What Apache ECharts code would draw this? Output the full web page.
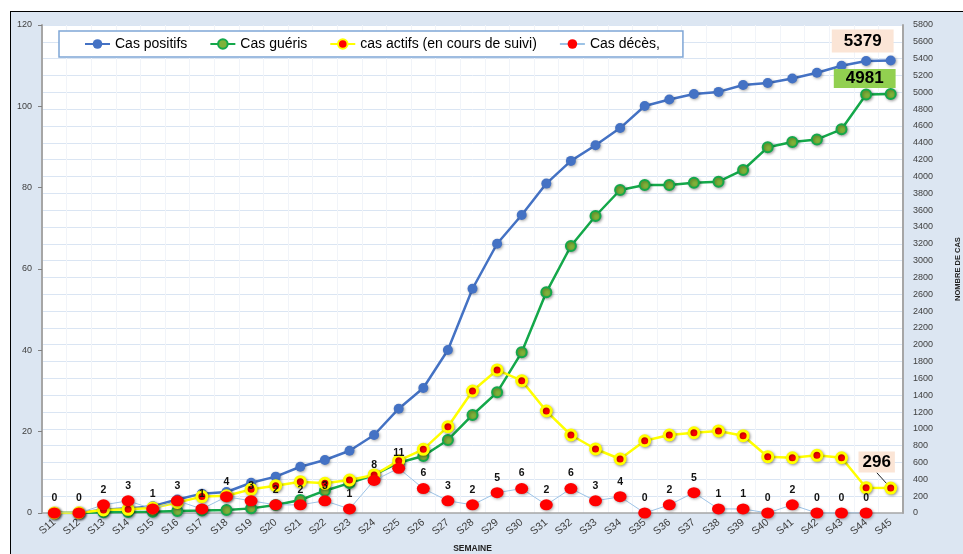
<!DOCTYPE html>
<html><head><meta charset="utf-8">
<script src="https://cdn.jsdelivr.net/npm/echarts@6/dist/echarts.min.js"></script>
<style>
html,body{margin:0;padding:0;background:#fff;overflow:hidden;width:963px;height:554px}
#bg{position:absolute;left:10px;top:11px;width:953px;height:543px;background:#dce6f2;border-left:1.5px solid #000;border-top:1.5px solid #000;box-sizing:border-box}
#c{position:absolute;left:0;top:0;width:963px;height:554px}
</style>
</head><body><div id="bg"></div><div id="c"></div>
<script>
const weeks = ['S11','S12','S13','S14','S15','S16','S17','S18','S19','S20','S21','S22','S23','S24','S25','S26','S27','S28','S29','S30','S31','S32','S33','S34','S35','S36','S37','S38','S39','S40','S41','S42','S43','S44','S45'];
const positifs = [1,3,40,55,80,160,230,250,360,432,550,630,740,927,1240,1486,1937,2665,3200,3542,3915,4185,4370,4575,4837,4915,4980,5005,5087,5110,5165,5232,5315,5372,5379];
const gueris = [0,0,8,12,15,25,30,36,55,95,155,265,355,452,598,677,868,1165,1434,1910,2623,3173,3530,3839,3898,3898,3926,3938,4077,4346,4410,4440,4560,4975,4981];
const actifs = [1,3,36,44,60,125,195,205,281,325,372,353,392,452,622,757,1026,1450,1700,1573,1212,927,761,642,859,927,954,975,919,669,657,686,657,301,296];
const deces = [0,0,2,3,1,3,1,4,3,2,2,3,1,8,11,6,3,2,5,6,2,6,3,4,0,2,5,1,1,0,2,0,0,0,null];
const leftTicks = [0,20,40,60,80,100,120];

const ff = "'Liberation Sans', Arial, sans-serif";
const shadow = {shadowBlur:3, shadowColor:'rgba(0,0,0,0.35)', shadowOffsetX:1, shadowOffsetY:1};
const last = weeks.length - 1;
function boxLabel(bg, offset, pad){
  return {show:true, position:'top', offset:offset, backgroundColor:bg, padding:pad,
    fontSize:17, fontWeight:'bold', color:'#000', fontFamily:ff, formatter:'{c}'};
}
const chart = echarts.init(document.getElementById('c'), null, {width:963, height:554});
chart.setOption({
  backgroundColor:'transparent',
  animation:false,
  textStyle:{fontFamily:ff},
  grid:{left:42, right:60, top:25, bottom:41, show:true, backgroundColor:'#fff', borderWidth:0,
        containLabel:false, outerBoundsMode:'none'},
  legend:{
    left:59, top:31, itemWidth:25, itemHeight:12, itemGap:22, padding:[6,23,6,25],
    borderColor:'#7fa6d6', borderWidth:1.5, backgroundColor:'#fff',
    textStyle:{fontSize:14, color:'#000', fontFamily:ff},
    data:['Cas positifs','Cas guéris','cas actifs (en cours de suivi)','Cas décès,']
  },
  xAxis:{
    type:'category', data:weeks, boundaryGap:true,
    name:'SEMAINE', nameLocation:'middle', nameGap:31,
    nameTextStyle:{fontSize:8.5, fontWeight:'bold', color:'#222', fontFamily:ff},
    axisLine:{lineStyle:{color:'#a6a6a6', width:1.5}},
    axisTick:{show:false},
    axisLabel:{interval:0, rotate:40, margin:8, fontSize:10.5, color:'#404040', fontFamily:ff},
    splitLine:{show:true, lineStyle:{color:'#f1f4f9', width:1}}
  },
  yAxis:[
    {type:'value', min:leftTicks[0], max:leftTicks[leftTicks.length-1], interval:20,
     axisLine:{show:true, lineStyle:{color:'#a6a6a6', width:2}},
     axisTick:{show:true, length:4, lineStyle:{color:'#808080'}},
     axisLabel:{fontSize:9, color:'#404040', margin:10, fontFamily:ff},
     splitLine:{show:false}},
    {type:'value', min:0, max:5800, interval:200, position:'right',
     name:'NOMBRE DE CAS', nameLocation:'middle', nameRotate:90, nameGap:51,
     nameTextStyle:{fontSize:7.5, fontWeight:'bold', color:'#222', fontFamily:ff},
     axisLine:{show:true, lineStyle:{color:'#a6a6a6', width:2}},
     axisTick:{show:false},
     axisLabel:{fontSize:9, color:'#404040', margin:10, fontFamily:ff, formatter:function(v){return String(v);}},
     splitLine:{show:true, lineStyle:{color:'#dae5f3', width:1}}}
  ],
  series:[
    {name:'Cas positifs', type:'line', yAxisIndex:1, z:3,
     data: positifs.map((v,i)=> i===last ? {value:v, label:boxLabel('#fbe5d6',[-28,2],[3,12])} : v),
     symbol:'circle', symbolSize:10,
     lineStyle:{color:'#4472c4', width:2.5},
     itemStyle:Object.assign({color:'#4472c4'}, shadow)},
    {name:'Cas guéris', type:'line', yAxisIndex:1, z:4,
     data: gueris.map((v,i)=> i===last ? {value:v, label:boxLabel('#92d050',[-26,5],[1,12])} : v),
     symbol:'circle', symbolSize:10,
     lineStyle:{color:'#14a84a', width:2.5},
     itemStyle:Object.assign({color:'#7fb239', borderColor:'#14a84a', borderWidth:2}, shadow)},
    {name:'cas actifs (en cours de suivi)', type:'line', yAxisIndex:1, z:5,
     data: actifs.map((v,i)=> i===last ? {value:v, label:boxLabel('#fbe5d6',[0,0],[2,4])} : v),
     symbol:'circle', symbolSize:10,
     lineStyle:{color:'#ffff00', width:2.5},
     itemStyle:Object.assign({color:'#ff0000', borderColor:'#ffff00', borderWidth:3}, shadow),
     labelLine:{show:true, lineStyle:{color:'#222', width:1}},
     labelLayout:function(p){ if(p.dataIndex===last){ return {dx:-14, dy:-4}; } }},
    {name:'Cas décès,', type:'line', yAxisIndex:0, z:6,
     data: deces,
     symbol:'circle', symbolSize:[13,11],
     lineStyle:{color:'#9dc3e6', width:1},
     itemStyle:Object.assign({color:'#ff0000'}, shadow),
     label:{show:true, position:'top', distance:4, fontSize:10.5, fontWeight:'bold', color:'#111', fontFamily:ff}}
  ]
});
</script>
</body></html>
